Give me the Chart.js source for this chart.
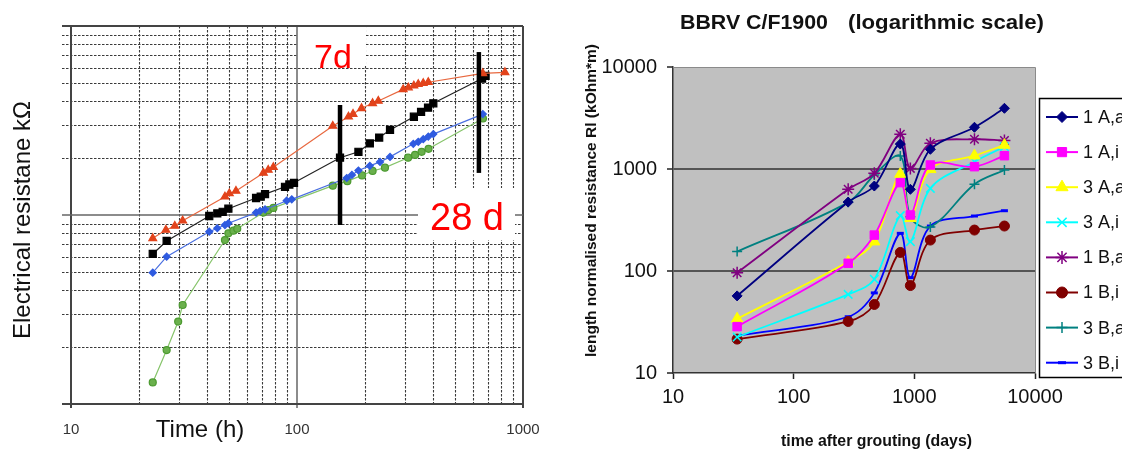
<!DOCTYPE html>
<html>
<head>
<meta charset="utf-8">
<script src="https://cdn.jsdelivr.net/npm/chart.js@4.4.1/dist/chart.umd.min.js"></script>
<style>
  html, body { margin: 0; padding: 0; background: #fff; overflow: hidden; }
  #wrapL { position: absolute; left: 0; top: 0; width: 560px; height: 451px; }
  #wrapR { position: absolute; left: 560px; top: 0; width: 562px; height: 451px; }
</style>
</head>
<body>
<div id="wrapL"><canvas id="leftChart" width="560" height="451"></canvas></div>
<div id="wrapR"><canvas id="rightChart" width="562" height="451"></canvas></div>
<script>
// ---------- left chart: resistance vs time (h) ----------
const redTime   = [23, 26.3, 28.8, 31.2, 48, 50.2, 53.7, 71, 74.6, 78.6, 144, 169, 177, 193, 216, 229, 295, 311, 329, 344, 362, 381, 664, 832];
const redRes    = [7.53, 8.33, 8.75, 9.33, 12.5, 13.0, 13.4, 16.7, 17.3, 17.9, 29.6, 33.1, 34.2, 36.7, 39.0, 40.1, 46.2, 47.2, 48.3, 49.2, 49.8, 50.4, 56.2, 56.9];
const blackTime = [23, 26.5, 40.9, 44.4, 46.9, 49.7, 65.9, 69.1, 72.2, 88.5, 92.5, 97, 155, 187, 210, 231, 258, 329, 354, 380, 401, 659, 683];
const blackRes  = [6.22, 7.29, 9.88, 10.2, 10.4, 10.8, 12.3, 12.5, 12.9, 14.1, 14.5, 14.8, 20.1, 21.6, 23.9, 25.7, 28.2, 33.1, 35.1, 37.0, 39.0, 52.7, 54.4];
const blueTime  = [23, 26.5, 40.9, 44.4, 48, 49.7, 65.9, 68.7, 72.2, 90, 94.8, 166, 175, 187, 210, 233, 258, 327, 344, 362, 381, 401, 664];
const blueRes   = [4.95, 6.02, 8.16, 8.51, 8.85, 9.04, 10.3, 10.5, 10.7, 11.9, 12.1, 15.7, 16.3, 17.2, 18.2, 19.1, 20.3, 23.8, 24.4, 25.2, 26.0, 26.8, 34.2];
const greenTime = [23, 26.5, 29.8, 31.2, 48, 49.7, 52.3, 54.4, 71, 74.6, 78.6, 144, 167, 194, 216, 245, 310, 333, 356, 382, 665];
const greenRes  = [1.30, 1.93, 2.73, 3.34, 7.37, 8.0, 8.26, 8.46, 10.3, 10.6, 10.9, 14.3, 15.1, 16.2, 17.1, 17.8, 20.1, 20.8, 21.6, 22.4, 32.4];
// the two thick marks (7 days / 28 days)
const bar7Time  = [155, 155];
const bar7Res   = [8.85, 38.2];
const bar28Time = [638, 638];
const bar28Res  = [16.7, 72.8];

// ---------- right chart: BBRV C/F1900 ----------
const groutDays = [34, 283, 466, 765, 927, 1358, 3150, 5580];
const rl1Aa = [57, 474, 681, 1757, 632, 1560, 2565, 3936];
const rl1Ai = [28.5, 119, 225, 735, 354, 1094, 1054, 1350];
const rl3Aa = [34, 123, 194, 893, 329, 993, 1350, 1718];
const rl3Ai = [22.5, 59, 83, 349, 194, 646, 1180, 1655];
const rl1Ba = [96, 632, 908, 2190, 1014, 1787, 1955, 1900];
const rl1Bi = [21.5, 32, 47, 152, 72, 201, 252, 276];
const rl3Ba = [155, 471, 873, 1340, 340, 270, 708, 977];
const rl3Bi = [23.2, 35.6, 61, 234, 86, 276, 346, 390];

const pts = (xs, ys) => xs.map((x, i) => ({ x: x, y: ys[i] }));
const isDecade = v => Math.abs(Math.log10(v) - Math.round(Math.log10(v))) < 1e-6;
const decadeLabel = v => isDecade(v) ? String(Math.round(v)) : '';
const FONT = 'Arial, "Liberation Sans", sans-serif';

// draw text squeezed/stretched to a given width
function fitText(ctx, text, x, y, w) {
    const m = ctx.measureText(text).width;
    ctx.save();
    ctx.translate(x, y);
    ctx.scale(w / m, 1);
    ctx.textAlign = 'left';
    ctx.fillText(text, 0, 0);
    ctx.restore();
}

// grid, boxes and labels of the left chart
const leftDecor = {
    id: 'leftDecor',
    beforeDatasetsDraw(chart) {
        const ctx = chart.ctx, a = chart.chartArea;
        const xs = chart.scales.x, ys = chart.scales.y;
        ctx.save();
        ctx.strokeStyle = '#3a3a3a';
        ctx.lineWidth = 1.1;
        ctx.setLineDash([2.5, 1.5]);
        [10, 100].forEach(d => {
            for (let k = 2; k <= 9; k++) {
                const px = Math.round(xs.getPixelForValue(d * k)) + 0.5;
                ctx.beginPath(); ctx.moveTo(px, a.top); ctx.lineTo(px, a.bottom); ctx.stroke();
            }
        });
        [1, 10].forEach(d => {
            for (let k = 2; k <= 9; k++) {
                const py = Math.round(ys.getPixelForValue(d * k)) + 0.5;
                ctx.beginPath(); ctx.moveTo(62, py); ctx.lineTo(a.right, py); ctx.stroke();
            }
        });
        ctx.setLineDash([]);
        [[10, '#444', 2], [100, '#666', 1.5], [1000, '#444', 2]].forEach(([v, c, w]) => {
            const px = Math.round(xs.getPixelForValue(v));
            ctx.strokeStyle = c; ctx.lineWidth = w;
            ctx.beginPath(); ctx.moveTo(px, a.top); ctx.lineTo(px, a.bottom + 4); ctx.stroke();
        });
        [[1, '#444', 2], [10, '#666', 1.5], [100, '#444', 2]].forEach(([v, c, w]) => {
            const py = Math.round(ys.getPixelForValue(v));
            ctx.strokeStyle = c; ctx.lineWidth = w;
            ctx.beginPath(); ctx.moveTo(62, py); ctx.lineTo(a.right, py); ctx.stroke();
        });
        // white label boxes
        ctx.fillStyle = '#fff';
        ctx.fillRect(298, 27, 68, 39);
        ctx.fillRect(418, 188, 97, 52);
        ctx.restore();
    },
    afterDraw(chart) {
        const ctx = chart.ctx;
        ctx.save();
        ctx.fillStyle = '#ff0000';
        ctx.textAlign = 'center';
        ctx.textBaseline = 'alphabetic';
        ctx.font = '34px ' + FONT;
        ctx.fillText('7d', 333, 68);
        ctx.font = '38px ' + FONT;
        ctx.fillText('28 d', 467, 230);
        ctx.fillStyle = '#111';
        ctx.font = '24px ' + FONT;
        ctx.fillText('Time (h)', 200, 437);
        ctx.translate(23, 220);
        ctx.rotate(-Math.PI / 2);
        ctx.textBaseline = 'middle';
        ctx.fillText('Electrical resistane k\u03A9', 0, 0);
        ctx.restore();
    }
};

new Chart(document.getElementById('leftChart'), {
    type: 'line',
    data: {
        datasets: [
            { data: pts(bar7Time, bar7Res), borderColor: '#000', borderWidth: 4.5, pointRadius: 0 },
            { data: pts(bar28Time, bar28Res), borderColor: '#000', borderWidth: 4.5, pointRadius: 0 },
            { data: pts(redTime, redRes), borderColor: '#e8683f', borderWidth: 1.2, pointStyle: 'triangle', pointRadius: 4.5,
              pointBackgroundColor: '#e2431b', pointBorderColor: '#e2431b' },
            { data: pts(blackTime, blackRes), borderColor: '#222', borderWidth: 1.2, pointStyle: 'rect', pointRadius: 5,
              pointBackgroundColor: '#000', pointBorderColor: '#000' },
            { data: pts(blueTime, blueRes), borderColor: '#4a6fe0', borderWidth: 1.2, pointStyle: 'rectRot', pointRadius: 3.5,
              pointBackgroundColor: '#2f5be0', pointBorderColor: '#2f5be0' },
            { data: pts(greenTime, greenRes), borderColor: '#86c46a', borderWidth: 1.2, pointStyle: 'circle', pointRadius: 3.5,
              pointBackgroundColor: '#6ab04c', pointBorderColor: '#4c9a30' }
        ]
    },
    options: {
        responsive: false,
        animation: false,
        events: [],
        layout: { padding: { left: 71, right: 37, top: 26, bottom: 0 } },
        plugins: { legend: { display: false }, tooltip: { enabled: false } },
        scales: {
            x: {
                type: 'logarithmic', min: 10, max: 1000,
                grid: { display: false, drawTicks: false },
                border: { display: false },
                ticks: { autoSkip: false, maxRotation: 0, padding: 17, color: '#333',
                         font: { family: FONT, size: 15 }, callback: decadeLabel },
                afterFit: s => { s.height = 47; }
            },
            y: { type: 'logarithmic', min: 1, max: 100, display: false }
        }
    },
    plugins: [leftDecor]
});

// plot background, frame, titles and legend of the right chart
const rightDecor = {
    id: 'rightDecor',
    beforeDraw(chart) {
        const ctx = chart.ctx, a = chart.chartArea;
        ctx.save();
        ctx.fillStyle = '#c0c0c0';
        ctx.fillRect(a.left, a.top, a.right - a.left, a.bottom - a.top);
        ctx.restore();
    },
    beforeDatasetsDraw(chart) {
        const ctx = chart.ctx, a = chart.chartArea;
        ctx.save();
        ctx.strokeStyle = '#8a8a8a';
        ctx.lineWidth = 1;
        ctx.beginPath();
        ctx.moveTo(a.left, a.top + 0.5); ctx.lineTo(a.right + 0.5, a.top + 0.5); ctx.lineTo(a.right + 0.5, a.bottom);
        ctx.stroke();
        ctx.restore();
    },
    afterDraw(chart) {
        const ctx = chart.ctx;
        ctx.save();
        ctx.fillStyle = '#111';
        ctx.textBaseline = 'alphabetic';
        ctx.font = 'bold 21px ' + FONT;
        fitText(ctx, 'BBRV C/F1900', 120, 28.5, 148);
        fitText(ctx, '(logarithmic scale)', 288, 28.5, 196);
        ctx.font = 'bold 16px ' + FONT;
        fitText(ctx, 'time after grouting (days)', 221, 446, 191);
        ctx.save();
        ctx.translate(32, 201);
        ctx.rotate(-Math.PI / 2);
        ctx.textBaseline = 'middle';
        ctx.font = 'bold 15px ' + FONT;
        fitText(ctx, 'length normalised resistance Rl (kOhm*m)', -156, 0, 313);
        ctx.restore();

        // legend box
        ctx.strokeStyle = '#000';
        ctx.lineWidth = 1.5;
        ctx.strokeRect(479.5, 98.5, 140, 279);
        ctx.font = '18px ' + FONT;
        ctx.textBaseline = 'middle';
        chart.data.datasets.forEach((ds, i) => {
            const y = 117 + i * 35.1;
            ctx.strokeStyle = ds.borderColor;
            ctx.lineWidth = 2;
            ctx.beginPath(); ctx.moveTo(486, y); ctx.lineTo(518, y); ctx.stroke();
            ctx.fillStyle = ds.pointBackgroundColor;
            ctx.strokeStyle = ds.pointBorderColor;
            ctx.lineWidth = ds.pointBorderWidth || 1;
            Chart.helpers.drawPoint(ctx, { pointStyle: ds.pointStyle, radius: ds.pointRadius + 0.5, borderWidth: ds.pointBorderWidth || 1, rotation: 0 }, 502, y);
            ctx.fillStyle = '#111';
            ctx.fillText(ds.label, 523, y + 1);
        });
        ctx.restore();
    }
};

const rlStyle = (label, values, color, style, radius, bw) => ({
    label: label, data: pts(groutDays, values), borderColor: color, borderWidth: 1.8, tension: 0.35,
    pointStyle: style, pointRadius: radius, pointBorderWidth: bw,
    pointBackgroundColor: color, pointBorderColor: color
});

new Chart(document.getElementById('rightChart'), {
    type: 'line',
    data: {
        datasets: [
            rlStyle('1 A,a', rl1Aa, '#000080', 'rectRot', 5, 1),
            rlStyle('1 A,i', rl1Ai, '#ff00ff', 'rect', 6, 1),
            rlStyle('3 A,a', rl3Aa, '#ffff00', 'triangle', 6.5, 1),
            rlStyle('3 A,i', rl3Ai, '#00ffff', 'crossRot', 6, 1.5),
            rlStyle('1 B,a', rl1Ba, '#800080', 'star', 6, 1.5),
            rlStyle('1 B,i', rl1Bi, '#800000', 'circle', 5, 1),
            rlStyle('3 B,a', rl3Ba, '#008080', 'cross', 5, 1.5),
            rlStyle('3 B,i', rl3Bi, '#0000ff', 'line', 3.5, 3)
        ]
    },
    options: {
        responsive: false,
        animation: false,
        events: [],
        layout: { padding: { left: 0, right: 87, top: 67, bottom: 0 } },
        plugins: { legend: { display: false }, tooltip: { enabled: false } },
        scales: {
            x: {
                type: 'logarithmic', min: 10, max: 10000,
                grid: { drawOnChartArea: false, color: 'rgba(0,0,0,0)',
                        tickColor: c => (c.tick && isDecade(c.tick.value)) ? '#222' : 'rgba(0,0,0,0)',
                        tickLength: 6, tickWidth: 1.5 },
                border: { color: '#333', width: 1.5 },
                ticks: { autoSkip: false, maxRotation: 0, padding: 6, color: '#111',
                         font: { family: FONT, size: 20 }, callback: decadeLabel },
                afterFit: s => { s.height = 78; }
            },
            y: {
                type: 'logarithmic', min: 10, max: 10000,
                grid: { color: c => (c.tick && (c.tick.value === 100 || c.tick.value === 1000)) ? '#555' : 'rgba(0,0,0,0)',
                        lineWidth: 2,
                        tickColor: c => (c.tick && isDecade(c.tick.value)) ? '#222' : 'rgba(0,0,0,0)',
                        tickLength: 6, tickWidth: 1.5 },
                border: { color: '#333', width: 1.5 },
                ticks: { autoSkip: false, padding: 10, color: '#111',
                         font: { family: FONT, size: 20 }, callback: decadeLabel },
                afterFit: s => { s.width = 113; }
            }
        }
    },
    plugins: [rightDecor]
});
</script>
</body>
</html>
